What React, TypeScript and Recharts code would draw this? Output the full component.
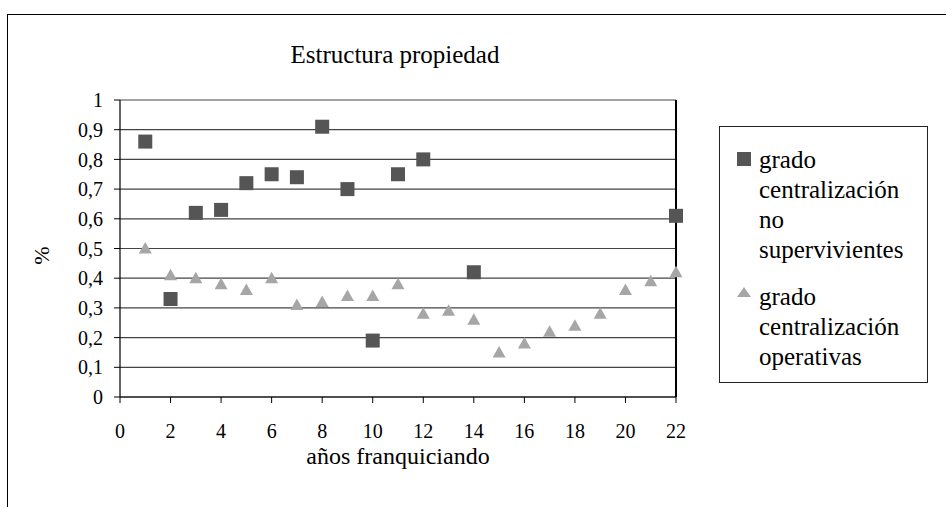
import React from "react";
import {
  ScatterChart,
  Scatter,
  XAxis,
  YAxis,
  CartesianGrid,
  ReferenceLine,
  Legend,
} from "recharts";

const FONT = '"Liberation Serif", Tinos, "Times New Roman", serif';

const chartTitle = "Estructura propiedad";
const xTitle = "años franquiciando";
const yTitle = "%";

const seriesNames = [
  "grado centralización no supervivientes",
  "grado centralización operativas",
];
const seriesColors = ["#555555", "#a6a6a6"];

const yearsNoSuperv = [1, 2, 3, 4, 5, 6, 7, 8, 9, 10, 11, 12, 14, 22];
const valuesNoSuperv = [0.86, 0.33, 0.62, 0.63, 0.72, 0.75, 0.74, 0.91, 0.7, 0.19, 0.75, 0.8, 0.42, 0.61];

const yearsOperativas = [1, 2, 3, 4, 5, 6, 7, 8, 9, 10, 11, 12, 13, 14, 15, 16, 17, 18, 19, 20, 21, 22];
const valuesOperativas = [
  0.5, 0.41, 0.4, 0.38, 0.36, 0.4, 0.31, 0.32, 0.34, 0.34, 0.38, 0.28, 0.29, 0.26, 0.15, 0.18, 0.22, 0.24,
  0.28, 0.36, 0.39, 0.42,
];

const xTicks = [0, 2, 4, 6, 8, 10, 12, 14, 16, 18, 20, 22];
const yTicks = [0, 0.1, 0.2, 0.3, 0.4, 0.5, 0.6, 0.7, 0.8, 0.9, 1];

const dataNoSuperv = yearsNoSuperv.map((x, i) => ({ x, y: valuesNoSuperv[i] }));
const dataOperativas = yearsOperativas.map((x, i) => ({ x, y: valuesOperativas[i] }));

const SquareShape = (props: any) => {
  const { cx, cy } = props;
  if (cx == null || cy == null) return null;
  return <rect x={cx - 7} y={cy - 7} width={14} height={14} fill={seriesColors[0]} />;
};

const TriangleShape = (props: any) => {
  const { cx, cy } = props;
  if (cx == null || cy == null) return null;
  const pts = `${cx},${cy - 6.5} ${cx - 6.5},${cy + 5} ${cx + 6.5},${cy + 5}`;
  return <polygon points={pts} fill={seriesColors[1]} />;
};

const LegendContent = () => {
  return (
    <div
      style={{
        boxSizing: "border-box",
        width: 209,
        height: 257,
        border: "1px solid #222",
        background: "#fff",
        paddingTop: 18,
        paddingLeft: 16,
        fontFamily: FONT,
        fontSize: 25,
        color: "#000",
      }}
    >
      {seriesNames.map((name, i) => (
        <div key={name} style={{ display: "flex", alignItems: "flex-start", marginTop: i === 0 ? 0 : 17 }}>
          <svg width={23} height={30} style={{ flex: "none" }}>
            {i === 0 ? (
              <rect x={1} y={7} width={14} height={14} fill={seriesColors[0]} />
            ) : (
              <polygon points="8,5 1,15 15,15" fill={seriesColors[1]} />
            )}
          </svg>
          <div style={{ lineHeight: "30px" }}>
            {name.split(" ").map((w) => (
              <div key={w}>{w}</div>
            ))}
          </div>
        </div>
      ))}
    </div>
  );
};

export default function App() {
  return (
    <div
      style={{
        position: "absolute",
        left: 0,
        top: 0,
        width: 946,
        height: 507,
        overflow: "hidden",
        background: "#fff",
      }}
    >
      <div
        style={{
          position: "absolute",
          left: 7,
          top: 14,
          width: 1000,
          height: 600,
          border: "1px solid #000",
        }}
      />
      <div
        style={{
          position: "absolute",
          left: 195,
          top: 42,
          width: 400,
          textAlign: "center",
          fontFamily: FONT,
          fontSize: 25,
          lineHeight: "25px",
          color: "#000",
        }}
      >
        {chartTitle}
      </div>
      <div style={{ position: "absolute", left: 0, top: 0 }}>
        <ScatterChart
          width={946}
          height={507}
          margin={{ top: 100, right: 270, bottom: 50, left: 0 }}
        >
          <CartesianGrid horizontal={true} vertical={false} stroke="#444" strokeWidth={1.2} />
          <XAxis
            type="number"
            dataKey="x"
            domain={[0, 22]}
            ticks={xTicks}
            interval={0}
            height={60}
            axisLine={{ stroke: "#000", strokeWidth: 1.2 }}
            tickLine={{ stroke: "#000" }}
            tickSize={6}
            tickMargin={21}
            tick={{ fill: "#000", fontFamily: FONT, fontSize: 20 }}
            label={{
              content: (p: any) => {
                const vb = p.viewBox || {};
                return (
                  <text
                    x={vb.x + vb.width / 2}
                    y={464}
                    textAnchor="middle"
                    fill="#000"
                    fontFamily={FONT}
                    fontSize={24}
                  >
                    {xTitle}
                  </text>
                );
              },
            }}
          />
          <YAxis
            type="number"
            dataKey="y"
            domain={[0, 1]}
            ticks={yTicks}
            interval={0}
            width={120}
            axisLine={{ stroke: "#000", strokeWidth: 1.2 }}
            tickLine={{ stroke: "#000" }}
            tickSize={6}
            tickMargin={11}
            tickFormatter={(v: number) => String(v).replace(".", ",")}
            tick={{ fill: "#000", fontFamily: FONT, fontSize: 20 }}
            label={{
              content: (p: any) => {
                const vb = p.viewBox || {};
                const cx = 41.5;
                const cy = vb.y + vb.height / 2 + 7;
                return (
                  <text
                    x={cx}
                    y={cy}
                    transform={`rotate(-90 ${cx} ${cy})`}
                    textAnchor="middle"
                    dominantBaseline="central"
                    fill="#000"
                    fontFamily={FONT}
                    fontSize={22}
                  >
                    {yTitle}
                  </text>
                );
              },
            }}
          />
          <ReferenceLine x={22} stroke="#000" strokeWidth={2} />
          <Legend
            content={<LegendContent />}
            layout="horizontal"
            verticalAlign="middle"
            align="center"
            wrapperStyle={{ left: 719, top: 126, width: 209, height: 257 }}
          />
          <Scatter
            name={seriesNames[1]}
            data={dataOperativas}
            fill={seriesColors[1]}
            shape={TriangleShape}
            isAnimationActive={false}
          />
          <Scatter
            name={seriesNames[0]}
            data={dataNoSuperv}
            fill={seriesColors[0]}
            shape={SquareShape}
            isAnimationActive={false}
          />
        </ScatterChart>
      </div>
    </div>
  );
}
